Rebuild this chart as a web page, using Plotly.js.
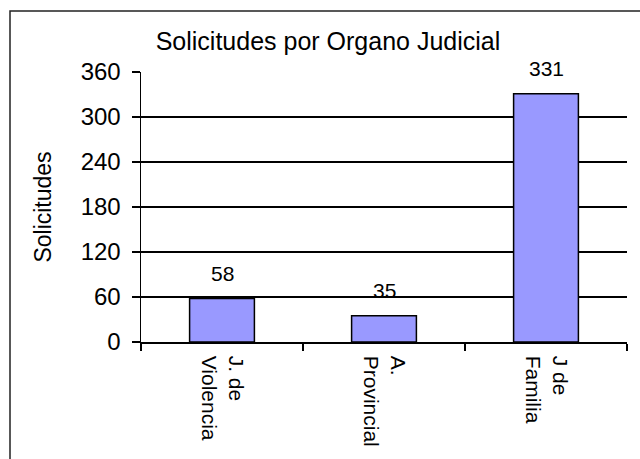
<!DOCTYPE html>
<html>
<head>
<meta charset="utf-8">
<script src="https://cdn.plot.ly/plotly-3.0.1.min.js"></script>
<style>
html,body{margin:0;padding:0;background:#fff;overflow:hidden;}
#chart{width:640px;height:459px;}
</style>
</head>
<body>
<div id="chart"></div>
<script>
var categories = ["J. de<br>Violencia", "A.<br>Provincial", "J de<br>Familia"];
var solicitudes = [58, 35, 331];
var yTickValues = [0, 60, 120, 180, 240, 300, 360];
var chartTitle = "Solicitudes por Organo Judicial";
var yTitle = "Solicitudes";

var W = 640, H = 459;
var L = 141, R = 13, T = 72, B = 117;
var pw = W - L - R, ph = H - T - B;
function px(x){ return (x - L) / pw; }
function py(y){ return (H - B - y) / ph; }

var font = "Arial, 'Liberation Sans', sans-serif";

var annotations = categories.map(function(c, i){
  return {x: c, y: solicitudes[i], xref: 'x', yref: 'y', text: String(solicitudes[i]),
          showarrow: false, yanchor: 'bottom', yshift: 12,
          font: {family: font, size: 21, color: '#000'}};
});

var trace = {
  type: 'bar', x: categories, y: solicitudes, width: 0.4,
  marker: {color: '#9999FF', line: {color: '#000', width: 1.5}},
  hoverinfo: 'none'
};

var layout = {
  width: W, height: H,
  margin: {l: L, r: R, t: T, b: B, pad: 0},
  paper_bgcolor: '#fff', plot_bgcolor: '#fff',
  showlegend: false,
  font: {family: font, color: '#000'},
  title: {text: chartTitle, font: {family: font, size: 25, color: '#000'},
          xref: 'container', x: 328 / W, xanchor: 'center',
          yref: 'container', y: 1 - 41 / H, yanchor: 'middle'},
  xaxis: {type: 'category', range: [-0.5, 2.5], tickson: 'boundaries',
          ticks: 'outside', ticklen: 7, tickwidth: 1.5, tickcolor: '#000',
          ticklabelstandoff: 8,
          showline: true, linecolor: '#000', linewidth: 1.5,
          showgrid: false, tickangle: 90,
          tickfont: {family: font, size: 21, color: '#000'}},
  yaxis: {range: [0, 360], tickvals: yTickValues, ticks: 'outside', ticklen: 8,
          tickwidth: 1.5, tickcolor: '#000', ticklabelstandoff: 6,
          showline: true, linecolor: '#000', linewidth: 1.5,
          showgrid: true, gridcolor: '#000', gridwidth: 1.2, zeroline: false,
          tickfont: {family: font, size: 24, color: '#000'},
          title: {text: yTitle, font: {family: font, size: 23, color: '#000'}, standoff: 22}},
  annotations: annotations,
  shapes: [{type: 'rect', xref: 'paper', yref: 'paper',
            x0: px(10), x1: px(646), y0: py(H + 10), y1: py(11),
            line: {color: '#222', width: 1.5}, fillcolor: 'rgba(0,0,0,0)', layer: 'above'}]
};

Plotly.newPlot('chart', [trace], layout, {staticPlot: true, displayModeBar: false});
</script>
</body>
</html>
